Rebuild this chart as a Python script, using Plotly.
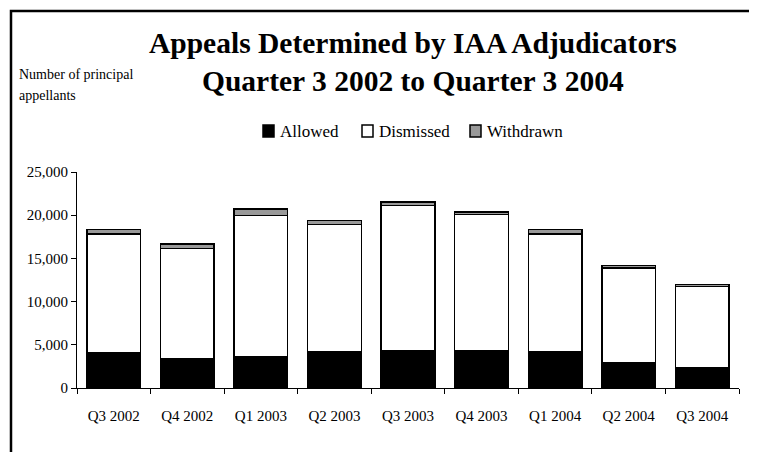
import plotly.graph_objects as go

categories = ["Q3 2002", "Q4 2002", "Q1 2003", "Q2 2003", "Q3 2003",
              "Q4 2003", "Q1 2004", "Q2 2004", "Q3 2004"]
allowed = [4050, 3400, 3600, 4200, 4300, 4300, 4150, 2950, 2350]
dismissed = [13800, 12750, 16350, 14700, 16800, 15800, 13700, 10950, 9400]
withdrawn = [500, 500, 750, 500, 450, 250, 500, 250, 250]
y_ticks = [0, 5000, 10000, 15000, 20000, 25000]

series_names = ["Allowed", "Dismissed", "Withdrawn"]
title_lines = ["Appeals Determined by IAA Adjudicators",
               "Quarter 3 2002 to Quarter 3 2004"]
y_title_lines = ["Number of principal", "appellants"]

FONT = "Liberation Serif"
COLORS = ["black", "white", "#999999"]

# window geometry (page body has an 8px margin)
OFF = 8
WIN_W, WIN_H = 757, 452
PLOT_X0, PLOT_X1, PLOT_Y0, PLOT_Y1 = 77, 739, 172, 388
W, H = WIN_W - OFF, WIN_H - OFF
L, T = PLOT_X0 - OFF, PLOT_Y0 - OFF
R, B = WIN_W - PLOT_X1, WIN_H - PLOT_Y1
PW, PH = PLOT_X1 - PLOT_X0, PLOT_Y1 - PLOT_Y0


def px_x(x):
    return (x - PLOT_X0) / PW


def px_y(y):
    return (PLOT_Y1 - y) / PH


fig = go.Figure()
line = dict(color="black", width=1.5)
for name, vals, col in zip(series_names, [allowed, dismissed, withdrawn], COLORS):
    fig.add_trace(go.Bar(x=categories, y=vals, name=name, showlegend=False,
                         marker=dict(color=col, line=line)))

annotations = []
for txt, yc in zip(title_lines, [42.5, 81]):
    annotations.append(dict(text="<b>%s</b>" % txt, xref="paper", yref="paper",
                            x=px_x(413), y=px_y(yc), xanchor="center", yanchor="middle",
                            showarrow=False,
                            font=dict(family=FONT, size=29.5, color="black")))
for txt, yc in zip(y_title_lines, [75, 95]):
    annotations.append(dict(text=txt, xref="paper", yref="paper",
                            x=px_x(17), y=px_y(yc), xanchor="left", yanchor="middle",
                            showarrow=False,
                            font=dict(family=FONT, size=14, color="black")))

# chart-area frame: only its left and top edges fall inside the window
fx, fy = px_x(11), px_y(11)
shapes = [dict(type="path", xref="paper", yref="paper",
               path="M %f,%f L %f,%f L %f,%f" % (fx, px_y(WIN_H + 20), fx, fy,
                                                 px_x(WIN_W + 20), fy),
               line=dict(color="black", width=2.5), layer="below")]

# manual legend (square + label) to mirror the reference spacing
legend_sq_x = [263, 362, 470]
for name, col, sx in zip(series_names, COLORS, legend_sq_x):
    shapes.append(dict(type="rect", xref="paper", yref="paper",
                       x0=px_x(sx), x1=px_x(sx + 11), y0=px_y(137), y1=px_y(125),
                       line=dict(color="black", width=1.5), fillcolor=col))
    annotations.append(dict(text=name, xref="paper", yref="paper",
                            x=px_x(sx + 15), y=px_y(131.5), xanchor="left",
                            yanchor="middle", showarrow=False,
                            font=dict(family=FONT, size=17, color="black")))

fig.update_layout(
    width=W, height=H,
    margin=dict(l=L, r=R, t=T, b=B, pad=0),
    barmode="stack", bargap=0.27,
    paper_bgcolor="white", plot_bgcolor="white",
    font=dict(family=FONT, size=15, color="black"),
    showlegend=False,
    annotations=annotations,
    shapes=shapes,
    xaxis=dict(showline=True, linecolor="black", linewidth=1, ticks="outside",
               tickson="boundaries", ticklen=5, tickcolor="black", tickwidth=1,
               showgrid=False, ticklabelstandoff=14,
               tickfont=dict(family=FONT, size=15, color="black")),
    yaxis=dict(range=[0, 25000], tickvals=y_ticks, tickformat=",", showline=True,
               linecolor="black", linewidth=1, ticks="outside", ticklen=5,
               tickcolor="black", tickwidth=1, showgrid=False, zeroline=False,
               tickfont=dict(family=FONT, size=15, color="black")),
)

fig.write_html("out.html", config={"displayModeBar": False})
